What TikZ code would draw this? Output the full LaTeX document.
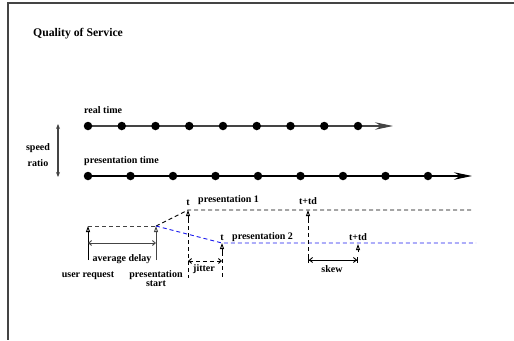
\documentclass[tikz,border=0pt]{standalone}
\usepackage{fontspec}
\setmainfont{Liberation Serif}
\usetikzlibrary{arrows.meta, backgrounds}
\definecolor{rtgray}{HTML}{444444}
\definecolor{presblue}{HTML}{1a1aee}
\tikzset{
  dot/.style      = {circle, fill=black, inner sep=0pt, minimum size=8.5pt},
  lbl/.style      = {font=\fontsize{10}{10}\selectfont\bfseries, inner sep=0pt},
  ttl/.style      = {font=\fontsize{11.7}{12}\selectfont\bfseries, inner sep=0pt},
  timeline/.style = {-{Stealth[length=18pt, width=7.5pt, inset=6pt]}, line width=1.1pt},
  uparr/.style    = {-{Triangle[open, length=6pt, width=4pt]}, line width=0.9pt},
  dimarr/.style   = {{Straight Barb[length=3pt, width=5pt]}-{Straight Barb[length=3pt, width=5pt]}, line width=0.9pt},
  dashln/.style   = {dash pattern=on 4pt off 3pt, line width=0.9pt},
}
\begin{document}
\begin{tikzpicture}[x=1pt, y=-1pt]
    \useasboundingbox (0,0) rectangle (514,340);
    % frame
    \draw[line width=1.1pt, rtgray] (514,3) -- (8,3) -- (8,340);
    \node[ttl, anchor=base west] (title) at (33,36) {Quality of Service};

    % Row 1 : real time
    \node[lbl, anchor=base west] (rtlbl) at (84,113) {real time};
    \foreach \i in {0,...,8}
      \node[dot] (r\i) at ({88+33.75*\i},126) {};
    \coordinate (rend) at (393,126);
    \begin{scope}[on background layer]
      \draw[timeline, rtgray] (r0) -- (rend);
    \end{scope}

    % Row 2 : presentation time
    \node[lbl, anchor=base west] (ptlbl) at (84,163) {presentation time};
    \foreach \i in {0,...,8}
      \node[dot] (p\i) at ({88+42.5*\i},176) {};
    \coordinate (pend) at (472,176);
    \begin{scope}[on background layer]
      \draw[timeline] (p0) -- (pend);
    \end{scope}

    % speed ratio
    \coordinate (sr1) at (58,124);
    \coordinate (sr2) at (58,177);
    \draw[{Stealth[length=5pt, width=4pt]}-{Stealth[length=5pt, width=4pt]}, rtgray, line width=1.1pt] (sr1) -- (sr2);
    \node[lbl, anchor=base] (speed) at (38,150) {speed};
    \node[lbl, anchor=base] (ratio) at (38,166) {ratio};

    % request -> start
    \coordinate (ureq)  at (88,226);
    \coordinate (ureqb) at (88,260);
    \coordinate (pst)   at (156,226);
    \coordinate (pstb)  at (156,260);
    \draw[uparr] (ureqb) -- (ureq);
    \draw[uparr, rtgray] (pstb) -- (pst);
    \draw[dashln, rtgray] (ureq) -- (pst);
    \coordinate (ad1) at (88,243);
    \coordinate (ad2) at (156,243);
    \draw[dimarr, rtgray] (ad1) -- (ad2);
    \node[lbl, anchor=base] (avgd)   at (122,261) {average delay};
    \node[lbl, anchor=base] (ureqlb) at (88,277)  {user request};
    \node[lbl, anchor=base] (pstlb)  at (156,277) {presentation};
    \node[lbl, anchor=base] (pstlb2) at (156,286) {start};

    % presentation 1
    \coordinate (t1)  at (188,210);
    \coordinate (t1m) at (188,219);
    \coordinate (t1b) at (188,278);
    \coordinate (p1e) at (474,210);
    \draw[dashln] (pst) -- (t1) -- (p1e);
    \draw[uparr] (t1m) -- (t1);
    \draw[dashln] (t1m) -- (t1b);
    \node[lbl, anchor=base]      (tt1)   at (188,205) {t};
    \node[lbl, anchor=base west] (pres1) at (198,202) {presentation 1};

    % presentation 2
    \coordinate (t2)  at (222,243);
    \coordinate (t2m) at (222,252);
    \coordinate (t2b) at (222,278);
    \coordinate (p2e) at (476,243);
    \draw[dashln, presblue] (pst) -- (t2) -- (p2e);
    \draw[uparr] (t2m) -- (t2);
    \draw[dashln] (t2m) -- (t2b);
    \node[lbl, anchor=base]      (tt2)   at (222,240) {t};
    \node[lbl, anchor=base west] (pres2) at (232,239) {presentation 2};

    % jitter
    \coordinate (ji1) at (188,261);
    \coordinate (ji2) at (222,261);
    \draw[dimarr, dashln] (ji1) -- (ji2);
    \node[lbl, anchor=base] (jit) at (204,271) {jitter};

    % skew
    \coordinate (td1)  at (308,210);
    \coordinate (td1m) at (308,219);
    \coordinate (td1b) at (308,260);
    \coordinate (td2)  at (358,244);
    \coordinate (td2m) at (358,252);
    \draw[uparr] (td1m) -- (td1);
    \draw[dashln] (td1m) -- (td1b);
    \draw[uparr] (td2m) -- (td2);
    \node[lbl, anchor=base] (ttd1) at (308,204) {t+td};
    \node[lbl, anchor=base] (ttd2) at (358,240) {t+td};
    \coordinate (sk1) at (308,260);
    \coordinate (sk2) at (358,260);
    \draw[{Bar[width=6pt] Straight Barb[length=3pt, width=5pt]}-{Straight Barb[length=3pt, width=5pt] Bar[width=6pt]}, line width=0.9pt] (sk1) -- (sk2);
    \node[lbl, anchor=base] (skw) at (332,272) {skew};
\end{tikzpicture}
\end{document}
